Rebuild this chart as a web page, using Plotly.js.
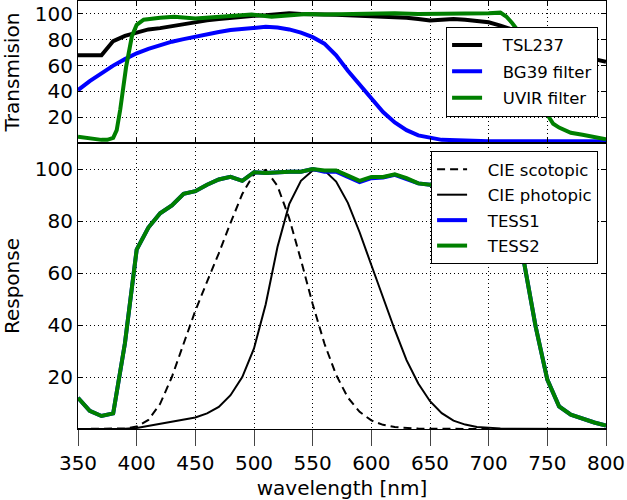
<!DOCTYPE html>
<html>
<head>
<meta charset="utf-8">
<script src="https://cdn.plot.ly/plotly-3.0.1.min.js"></script>
<style>
  body { margin: 0; padding: 0; background: #fff; }
  #chart { width: 627px; height: 500px; }
</style>
</head>
<body>
<div id="chart"></div>
<script>
// top panel: filter / sensor transmission
const tslWl = [350, 360, 370, 380, 390, 400, 410, 420, 430, 440, 450, 460, 470, 480, 490, 500, 510, 520, 530, 540, 550, 560, 570, 580, 590, 600, 610, 620, 630, 640, 650, 660, 670, 680, 690, 700, 710, 720, 730, 740, 750, 760, 770, 780, 790, 800];
const tslVal = [68, 68, 68, 79, 83, 85.5, 88, 89, 90.5, 92, 94, 95, 96, 97, 97.5, 98.5, 99, 99.5, 100.5, 100, 99.5, 99.5, 99.3, 99, 98.8, 98.6, 98.3, 98, 97, 96, 95, 95.5, 96, 95.5, 94.5, 93.5, 91, 88, 85, 81.5, 78, 74.5, 71, 68, 65, 63];

const bgWl = [350, 360, 370, 380, 390, 400, 410, 420, 430, 440, 450, 460, 470, 480, 490, 500, 510, 520, 530, 540, 550, 560, 570, 580, 590, 600, 610, 620, 630, 640, 650, 660, 680, 700, 750, 800];
const bgVal = [41, 48, 54, 60, 65, 69.5, 73, 76, 78.5, 80.5, 82.5, 84.5, 86, 87.5, 88.5, 89.5, 90, 89.5, 88, 85.5, 82, 77, 68, 56, 45, 34, 24, 16, 10, 6, 4, 2.5, 2, 1.5, 1.5, 1.5];

const uvWl = [350, 360, 370, 375, 380, 383, 386, 391, 396, 400, 406, 420, 432, 450, 465, 481, 498, 515, 530, 545, 560, 580, 600, 620, 640, 660, 680, 700, 710, 715, 720, 725, 730, 740, 750, 755, 760, 770, 780, 790, 800];
const uvVal = [5, 3.5, 2.5, 2.5, 4, 10, 26, 59, 83, 91.5, 95.5, 97, 97.8, 96.4, 97.5, 98.8, 99.5, 97.8, 99, 100, 99.5, 100, 100, 100.5, 100, 100, 100, 100.5, 101, 98, 93, 87, 75, 45, 22, 15, 12, 8, 6.5, 5, 3];

// bottom panel: response curves
const respWl = [350, 360, 370, 380, 390, 400, 410, 420, 430, 440, 450, 460, 470, 480, 490, 500, 510, 520, 530, 540, 550, 560, 570, 580, 590, 600, 610, 620, 630, 640, 650, 660, 670, 680, 690, 700, 710, 720, 730, 740, 750, 760, 770, 780, 790, 800];
const scotopic = [0, 0, 0, 0.06, 0.22, 0.93, 3.5, 9.7, 20, 32.8, 45.5, 56.7, 67.6, 79.3, 90.4, 98.2, 99.7, 93.5, 81.1, 65, 48.1, 32.9, 20.8, 12.1, 6.6, 3.3, 1.6, 0.74, 0.33, 0.15, 0.07, 0.03, 0.01, 0, 0, 0, 0, 0, 0, 0, 0, 0, 0, 0, 0, 0];
const photopic = [0, 0, 0, 0, 0.1, 0.4, 1.2, 2, 2.8, 3.6, 4.4, 6, 8.5, 13, 20, 31, 48, 70, 86.5, 95.5, 99.5, 99.5, 95.2, 87, 75.7, 63.1, 50.3, 38.1, 26.5, 17.5, 10.7, 6.1, 3.2, 1.7, 0.8, 0.4, 0.2, 0.1, 0.05, 0, 0, 0, 0, 0, 0, 0];
const tess1 = [12, 7, 5, 6, 33, 69, 77.5, 83, 86, 90.5, 91.5, 94, 96, 97, 95.5, 98.8, 98.5, 98.8, 99, 99, 100, 99, 99, 97, 95, 96.5, 96.8, 97.8, 96.3, 94.5, 94, 95, 96, 95.5, 95, 94.5, 93, 85, 64.5, 39.5, 19, 8.7, 5.5, 3.8, 2.5, 1.3];
const tess2 = [12, 7, 5, 6, 33, 69, 77.5, 83, 86, 90.5, 91.5, 94, 96, 97, 95.5, 98.8, 98.5, 98.8, 99, 99, 100, 99.5, 99.5, 97.5, 95.5, 97, 97, 98, 96.5, 94.5, 94, 95, 96, 95.5, 95, 94.5, 93, 85, 64.5, 39.5, 19, 8.7, 5.5, 3.8, 2.5, 1.3];

const xTicks = [350, 400, 450, 500, 550, 600, 650, 700, 750, 800];
const yTicks = [20, 40, 60, 80, 100];

const FONT = 'DejaVu Sans, Verdana, sans-serif';
const gridDash = '1px,3px';
const PAD = '\u00a0\u00a0\u00a0'; // pushes legend text right of the short sample line

function line(x, y, name, color, width, legend, dash) {
  return {
    x, y,
    name: PAD + name,
    type: 'scatter',
    mode: 'lines',
    xaxis: legend === 'legend' ? 'x' : 'x2',
    yaxis: legend === 'legend' ? 'y' : 'y2',
    legend,
    legendgroup: name,
    line: { color, width, dash: dash || 'solid' },
    hoverinfo: 'skip',
  };
}

const traces = [
  line(tslWl, tslVal, 'TSL237', '#000000', 4, 'legend'),
  line(bgWl, bgVal, 'BG39 filter', '#0000ff', 4, 'legend'),
  line(uvWl, uvVal, 'UVIR filter', '#008000', 4, 'legend'),
  line(respWl, scotopic, 'CIE scotopic', '#000000', 2, 'legend2', '8px,5px'),
  line(respWl, photopic, 'CIE photopic', '#000000', 2, 'legend2'),
  line(respWl, tess1, 'TESS1', '#0000ff', 4, 'legend2'),
  line(respWl, tess2, 'TESS2', '#008000', 4, 'legend2'),
];

const axisCommon = {
  showline: true,
  linecolor: '#000',
  linewidth: 1,
  zeroline: false,
  showgrid: true,
  gridcolor: '#000',
  gridwidth: 1,
  griddash: gridDash,
  tickcolor: '#000',
  tickfont: { family: FONT, size: 20, color: '#000' },
};

const legendCommon = {
  xanchor: 'right',
  yanchor: 'top',
  bgcolor: '#fff',
  bordercolor: '#000',
  borderwidth: 1,
  font: { family: FONT, size: 16.5, color: '#000' },
  tracegroupgap: 2,
};

const layout = {
  width: 627,
  height: 500,
  margin: { l: 78, r: 21, t: 1, b: 71 },
  paper_bgcolor: '#fff',
  plot_bgcolor: '#fff',
  font: { family: FONT, color: '#000' },
  showlegend: true,
  xaxis: Object.assign({}, axisCommon, {
    domain: [0, 1],
    anchor: 'y',
    range: [350, 800],
    tickvals: xTicks,
    ticks: 'inside',
    ticklen: 5,
    showticklabels: false,
    mirror: 'ticks',
  }),
  yaxis: Object.assign({}, axisCommon, {
    domain: [0.668, 1],
    anchor: 'x',
    range: [0, 110],
    tickvals: yTicks,
    ticks: 'inside',
    ticklen: 5,
    mirror: 'ticks',
    title: { text: 'Transmision', font: { family: FONT, size: 20 }, standoff: 12 },
  }),
  xaxis2: Object.assign({}, axisCommon, {
    domain: [0, 1],
    anchor: 'y2',
    matches: 'x',
    range: [350, 800],
    tickvals: xTicks,
    ticks: 'outside',
    ticklen: 16,
    tickcolor: '#444',
    mirror: true,
    title: { text: 'wavelength [nm]', font: { family: FONT, size: 20 }, standoff: 6 },
  }),
  yaxis2: Object.assign({}, axisCommon, {
    domain: [0, 0.668],
    anchor: 'x2',
    range: [0, 110],
    tickvals: yTicks,
    ticks: 'inside',
    ticklen: 5,
    mirror: 'ticks',
    title: { text: 'Response', font: { family: FONT, size: 20 }, standoff: 12 },
  }),
  legend: Object.assign({}, legendCommon, { x: 0.985, y: 0.94 }),
  legend2: Object.assign({}, legendCommon, { x: 0.985, y: 0.6495, tracegroupgap: 1 }),
};

Plotly.newPlot('chart', traces, layout, { displayModeBar: false, staticPlot: true });
</script>
</body>
</html>
